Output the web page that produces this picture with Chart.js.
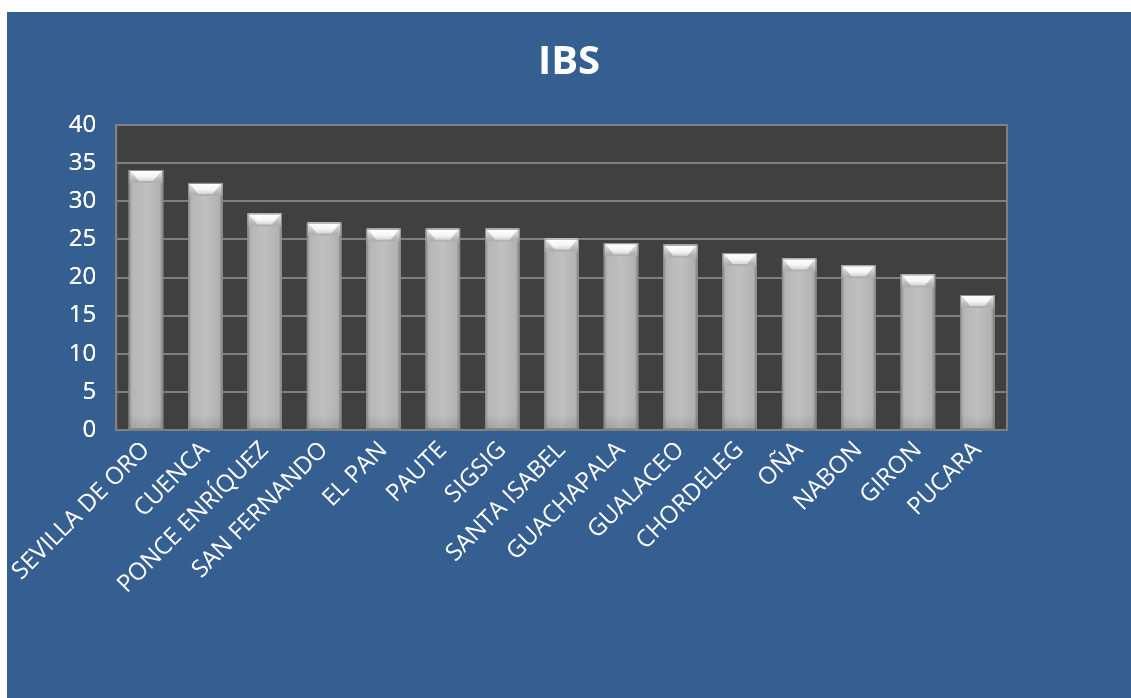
<!DOCTYPE html>
<html>
<head>
<meta charset="utf-8">
<script src="https://cdn.jsdelivr.net/npm/chart.js@4"></script>
<style>
    html, body { margin: 0; padding: 0; background: #ffffff; }
    #box {
        position: absolute;
        left: 7px;
        top: 12px;
        width: 1124px;
        height: 686px;
        background: #365f91;
    }
</style>
</head>
<body>
<div id="box"><canvas id="chart"></canvas></div>
<script>
// Chart data
const categories = [
    'SEVILLA DE ORO', 'CUENCA', 'PONCE ENRÍQUEZ', 'SAN FERNANDO', 'EL PAN',
    'PAUTE', 'SIGSIG', 'SANTA ISABEL', 'GUACHAPALA', 'GUALACEO',
    'CHORDELEG', 'OÑA', 'NABON', 'GIRON', 'PUCARA'
];
const ibsValues = [34.1, 32.4, 28.4, 27.2, 26.4, 26.4, 26.4, 25.1, 24.5, 24.3, 23.2, 22.5, 21.6, 20.4, 17.7];
const yTicks = [0, 5, 10, 15, 20, 25, 30, 35, 40];

const FONT = "'Open Sans', sans-serif";

// Dark plot background and gray frame
const plotFrame = {
    id: 'plotFrame',
    beforeDatasetsDraw(chart) {
        const { ctx, chartArea: a } = chart;
        ctx.save();
        ctx.fillStyle = '#404040';
        ctx.fillRect(a.left, a.top, a.right - a.left, a.bottom - a.top);
        ctx.restore();
        // redraw grid on top of the fill
        chart.scales.y.draw(chart.chartArea);
    },
    afterDraw(chart) {
        const { ctx, chartArea: a } = chart;
        ctx.save();
        ctx.strokeStyle = '#808080';
        ctx.lineWidth = 2;
        ctx.strokeRect(a.left, a.top, a.right - a.left, a.bottom - a.top);
        ctx.restore();
    }
};

// Shaded bars with a beveled top
const bevelBars = {
    id: 'bevelBars',
    afterDatasetsDraw(chart) {
        const { ctx } = chart;
        const meta = chart.getDatasetMeta(0);
        ctx.save();
        meta.data.forEach(bar => {
            const w = bar.width;
            const l = bar.x - w / 2, r = bar.x + w / 2;
            const t = bar.y, b = bar.base;
            // body shading
            const g = ctx.createLinearGradient(l, 0, r, 0);
            g.addColorStop(0, '#8c8c8c');
            g.addColorStop(0.1, '#b6b6b6');
            g.addColorStop(0.5, '#c0c0c0');
            g.addColorStop(0.9, '#b2b2b2');
            g.addColorStop(1, '#7e7e7e');
            ctx.fillStyle = g;
            ctx.fillRect(l, t, w, b - t);
            // darker foot
            const fg = ctx.createLinearGradient(0, b - 14, 0, b);
            fg.addColorStop(0, 'rgba(0,0,0,0)');
            fg.addColorStop(1, 'rgba(0,0,0,0.12)');
            ctx.fillStyle = fg;
            ctx.fillRect(l, b - 14, w, 14);
            // top bevel
            const h = 11, inset = 10;
            const sg = ctx.createLinearGradient(0, t, 0, t + h);
            sg.addColorStop(0, '#ececec');
            sg.addColorStop(1, '#b0b0b0');
            ctx.fillStyle = sg;
            ctx.fillRect(l, t, w, h + 2);
            const tg = ctx.createLinearGradient(0, t, 0, t + h);
            tg.addColorStop(0, '#ffffff');
            tg.addColorStop(0.6, '#f6f6f6');
            tg.addColorStop(1, '#d4d4d4');
            ctx.fillStyle = tg;
            ctx.beginPath();
            ctx.moveTo(l + 1, t);
            ctx.lineTo(r - 1, t);
            ctx.lineTo(r - inset, t + h);
            ctx.lineTo(l + inset, t + h);
            ctx.closePath();
            ctx.fill();
            ctx.strokeStyle = '#8a8a8a';
            ctx.lineWidth = 1;
            ctx.strokeRect(l + 0.5, t + 0.5, w - 1, b - t - 1);
        });
        ctx.restore();
    }
};

new Chart(document.getElementById('chart'), {
    type: 'bar',
    data: {
        labels: categories,
        datasets: [{
            label: 'IBS',
            data: ibsValues,
            backgroundColor: '#b4b4b4',
            borderWidth: 0,
            barPercentage: 0.58,
            categoryPercentage: 1.0
        }]
    },
    options: {
        responsive: true,
        maintainAspectRatio: false,
        animation: false,
        layout: { padding: 0 },
        plugins: {
            legend: { display: false },
            tooltip: { enabled: false },
            title: {
                display: true,
                text: 'IBS',
                color: '#ffffff',
                font: { family: FONT, size: 40, weight: 'bold' },
                padding: { top: 27, bottom: 38 }
            }
        },
        scales: {
            x: {
                grid: { display: false, drawTicks: false },
                border: { color: '#808080', width: 2 },
                ticks: {
                    color: '#ffffff',
                    font: { family: FONT, size: 24 },
                    minRotation: 45,
                    maxRotation: 45,
                    padding: 6,
                    autoSkip: false
                },
                afterFit(scale) { scale.height = 268; }
            },
            y: {
                min: 0,
                max: 40,
                afterBuildTicks(scale) { scale.ticks = yTicks.map(v => ({ value: v })); },
                grid: { color: '#7f7f7f', lineWidth: 2, drawTicks: false },
                border: { color: '#808080', width: 2 },
                ticks: {
                    color: '#ffffff',
                    font: { family: FONT, size: 24 },
                    padding: 20
                },
                afterFit(scale) { scale.width = 105; }
            },
            // empty right-hand margin so the title centres over the full box
            spacer: {
                type: 'linear',
                position: 'right',
                grid: { display: false, drawTicks: false },
                border: { display: false },
                ticks: { display: false },
                afterFit(scale) { scale.width = 124; }
            }
        }
    },
    plugins: [plotFrame, bevelBars]
});
</script>
</body>
</html>
